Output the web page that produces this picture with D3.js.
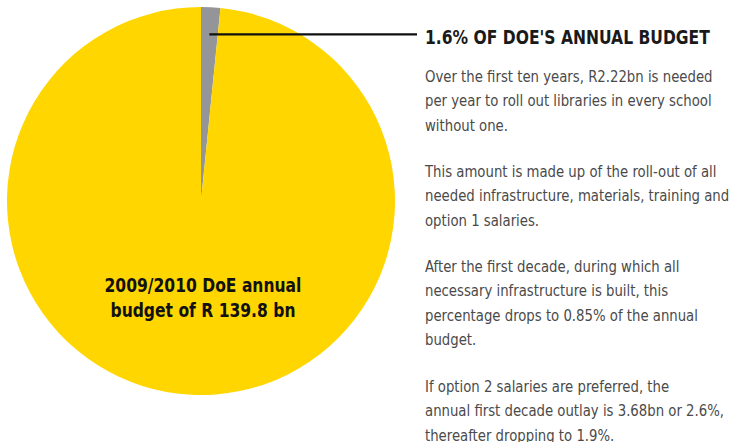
<!DOCTYPE html>
<html>
<head>
<meta charset="utf-8">
<script src="https://cdn.jsdelivr.net/npm/d3@7"></script>
<style>
  html, body { margin: 0; padding: 0; background: #fff; }
  svg { display: block; }
  .cond { font-family: "Liberation Sans Narrow", "DejaVu Sans Condensed", "Roboto Condensed", "Arial Narrow", "Liberation Sans", sans-serif; font-stretch: condensed; }
</style>
</head>
<body>
<svg id="chart" width="734" height="442"></svg>
<script>
// ---- data ----
const categories = ["Library roll-out (R2.22bn)", "Rest of 2009/2010 DoE budget"];
const shares = [1.6, 98.4];
const sliceColors = ["#939598", "#FFD600"];
const pieLabelLines = ["2009/2010 DoE annual", "budget of R 139.8 bn"];
const headline = "1.6% OF DOE'S ANNUAL BUDGET";
const paragraphs = [
  ["Over the first ten years, R2.22bn is needed", "per year to roll out libraries in every school", "without one."],
  ["This amount is made up of the roll-out of all", "needed infrastructure, materials, training and", "option 1 salaries."],
  ["After the first decade, during which all", "necessary infrastructure is built, this", "percentage drops to 0.85% of the annual", "budget."],
  ["If option 2 salaries are preferred, the", "annual first decade outlay is 3.68bn or 2.6%,", "thereafter dropping to 1.9%."]
];

const svg = d3.select("#chart");
const cx = 201, cy = 201, r = 194;

const pie = d3.pie().sort(null).value(d => d)(shares);
const arc = d3.arc().innerRadius(0).outerRadius(r);

const g = svg.append("g").attr("transform", `translate(${cx},${cy})`);
g.selectAll("path").data(pie).join("path")
  .attr("d", arc)
  .attr("fill", (d, i) => sliceColors[i]);

// leader line from grey slice
const s = pie[0];
const mid = (s.startAngle + s.endAngle) / 2;
const lr = r * 0.86;
const lx = cx + lr * Math.sin(mid), ly = cy - lr * Math.cos(mid);
svg.append("line")
  .attr("x1", lx).attr("y1", ly).attr("x2", 417).attr("y2", ly)
  .attr("stroke", "#111").attr("stroke-width", 2.2);

// helper: squeeze a text group horizontally so that a reference line gets a target width
function squeeze(sel, refNode, targetW, anchorX) {
  const w = refNode.getComputedTextLength();
  const k = Math.min(1, targetW / w);
  sel.attr("transform", `translate(${anchorX},0) scale(${k},1) translate(${-anchorX},0)`);
}

// pie label
const pl = svg.append("text").attr("class", "cond")
  .attr("text-anchor", "middle")
  .attr("font-weight", "bold").attr("font-size", 20).attr("fill", "#111");
pieLabelLines.forEach((t, i) => {
  pl.append("tspan").attr("x", 203).attr("y", 292 + i * 25).text(t);
});
const plRef = svg.append("text").attr("class", "cond").attr("font-weight", "bold").attr("font-size", 20).text(pieLabelLines[0]);
squeeze(pl, plRef.node(), 197, 203);
plRef.remove();

// headline
const hx = 425;
const hd = svg.append("text").attr("class", "cond")
  .attr("x", hx).attr("y", 44)
  .attr("font-weight", "bold").attr("font-size", 20).attr("fill", "#1a1a1a")
  .text(headline);
squeeze(hd, hd.node(), 285, hx);

// paragraphs
const bodyRef = svg.append("text").attr("class", "cond").attr("font-size", 16).text(paragraphs[0][1]);
const bw = bodyRef.node().getComputedTextLength();
bodyRef.remove();
const kb = Math.min(1, 287 / bw);
const paraTops = [82, 177, 272, 392];
paragraphs.forEach((lines, pi) => {
  const t = svg.append("text").attr("class", "cond")
    .attr("font-size", 16).attr("fill", "#4a4a4a")
    .attr("transform", `translate(${hx},0) scale(${kb},1) translate(${-hx},0)`);
  lines.forEach((line, li) => {
    t.append("tspan").attr("x", hx).attr("y", paraTops[pi] + li * 24.5).text(line);
  });
});
</script>
</body>
</html>
